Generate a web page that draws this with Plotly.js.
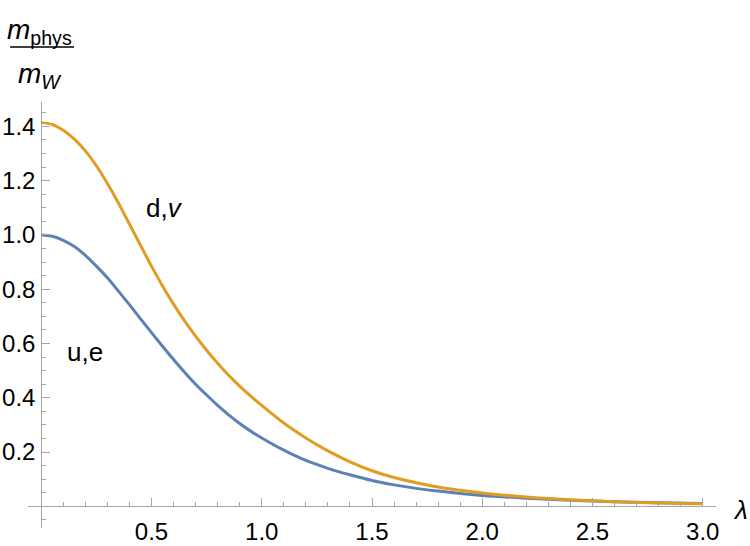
<!DOCTYPE html>
<html>
<head>
<meta charset="utf-8">
<script src="https://cdn.plot.ly/plotly-3.0.1.min.js"></script>
<style>html,body{margin:0;padding:0;background:#fff;}#chart{width:750px;height:546px;}</style>
</head>
<body>
<div id="chart"></div>
<script>
// λ sample points
var lambda = [0, 0.05, 0.1, 0.15, 0.2, 0.25, 0.3, 0.35, 0.4, 0.45, 0.5, 0.55, 0.6, 0.65, 0.7, 0.75, 0.8, 0.85, 0.9, 0.95, 1.0,
              1.1, 1.2, 1.3, 1.4, 1.5, 1.6, 1.7, 1.8, 1.9, 2.0, 2.2, 2.4, 2.6, 2.8, 3.0];
// u,e curve (blue)
var massUE = [1.000, 0.995, 0.980, 0.957, 0.925, 0.885, 0.842, 0.793, 0.743, 0.691, 0.640, 0.590, 0.541, 0.494, 0.450, 0.410, 0.372, 0.337, 0.305, 0.277, 0.252,
              0.207, 0.169, 0.140, 0.116, 0.095, 0.079, 0.066, 0.056, 0.047, 0.040, 0.030, 0.022, 0.017, 0.013, 0.010];
// d,v curve (orange)
var massDV = [1.414, 1.407, 1.386, 1.353, 1.310, 1.255, 1.190, 1.118, 1.040, 0.962, 0.885, 0.812, 0.745, 0.683, 0.627, 0.575, 0.527, 0.483, 0.443, 0.406, 0.372,
              0.307, 0.252, 0.204, 0.164, 0.131, 0.106, 0.087, 0.071, 0.059, 0.049, 0.034, 0.024, 0.017, 0.012, 0.009];
// tick labels
var xTickVals = [0.5, 1.0, 1.5, 2.0, 2.5, 3.0];
var xTickText = ["0.5", "1.0", "1.5", "2.0", "2.5", "3.0"];
var yTickVals = [0.2, 0.4, 0.6, 0.8, 1.0, 1.2, 1.4];
var yTickText = ["0.2", "0.4", "0.6", "0.8", "1.0", "1.2", "1.4"];

var FONT = "Liberation Sans, Arial, sans-serif";
var AXC = "#a6a6a6";

var traces = [
  {x: lambda, y: massUE, mode: "lines", line: {color: "#5e81b5", width: 3, shape: "spline", smoothing: 1}, hoverinfo: "skip"},
  {x: lambda, y: massDV, mode: "lines", line: {color: "#e19c24", width: 3, shape: "spline", smoothing: 1}, hoverinfo: "skip"}
];

var axisCommon = {
  showgrid: false, zeroline: false, showline: true, linecolor: AXC, linewidth: 1,
  ticks: "inside", ticklen: 8, tickwidth: 1, tickcolor: AXC,
  tickfont: {family: FONT, size: 24, color: "#000"},
  tickmode: "array", fixedrange: true, anchor: "free"
};

var layout = {
  width: 750, height: 546,
  margin: {l: 28, r: 34, t: 102, b: 18},
  paper_bgcolor: "#fff", plot_bgcolor: "#fff",
  showlegend: false,
  xaxis: Object.assign({}, axisCommon, {
    range: [-0.06, 3.06], position: 0.08 / 1.57,
    tickvals: xTickVals, ticktext: xTickText, ticklabelstandoff: 4,
    minor: {tickmode: "linear", tick0: 0, dtick: 0.1, ticks: "inside", ticklen: 4, tickcolor: AXC, tickwidth: 1}
  }),
  yaxis: Object.assign({}, axisCommon, {
    range: [-0.08, 1.49], position: 0.06 / 3.12,
    tickvals: yTickVals, ticktext: yTickText, ticklabelstandoff: 1,
    minor: {tickmode: "linear", tick0: 0, dtick: 0.05, ticks: "inside", ticklen: 4, tickcolor: AXC, tickwidth: 1}
  }),
  annotations: [
    {x: 0.56, y: 1.10, xref: "x", yref: "y", text: "d,<i>v</i>", showarrow: false,
     font: {family: FONT, size: 26, color: "#000"}, xanchor: "center", yanchor: "middle"},
    {x: 0.197, y: 0.568, xref: "x", yref: "y", text: "u,e", showarrow: false,
     font: {family: FONT, size: 26, color: "#000"}, xanchor: "center", yanchor: "middle"},
    {x: 1.035, y: 0.042, xref: "paper", yref: "paper", text: "<i>λ</i>", showarrow: false,
     font: {family: FONT, size: 26, color: "#000"}, xanchor: "center", yanchor: "middle"},
    {x: 0.0174, y: 1.166, xref: "paper", yref: "paper", text: "<i>m</i><sub>phys</sub>", showarrow: false,
     font: {family: FONT, size: 28, color: "#000"}, xanchor: "center", yanchor: "middle"},
    {x: 0.018, y: 1.063, xref: "paper", yref: "paper", text: "<i>m</i><sub><i>W</i></sub>", showarrow: false,
     font: {family: FONT, size: 28, color: "#000"}, xanchor: "center", yanchor: "middle"}
  ],
  shapes: [
    {type: "line", xref: "paper", yref: "paper", x0: -0.026, x1: 0.0669, y0: 1.129, y1: 1.129,
     line: {color: "#000", width: 1.5}}
  ]
};

Plotly.newPlot("chart", traces, layout, {staticPlot: true, displayModeBar: false});
</script>
</body>
</html>
